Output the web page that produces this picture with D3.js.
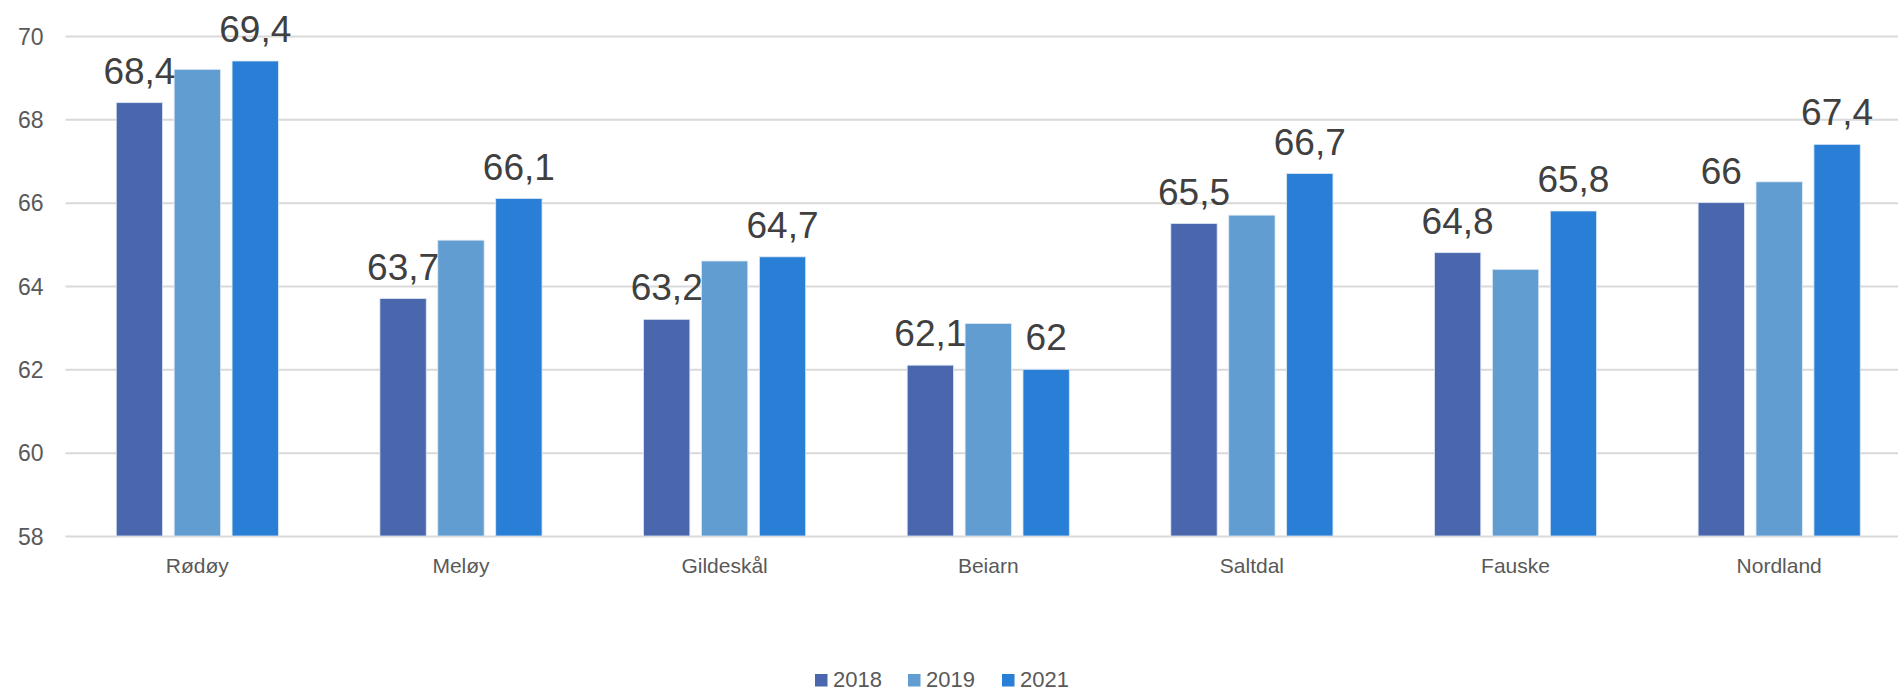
<!DOCTYPE html>
<html><head><meta charset="utf-8">
<script src="https://cdn.jsdelivr.net/npm/d3@7"></script>
<style>
html,body{margin:0;padding:0;background:#fff;}
svg{display:block;font-family:"Liberation Sans",Arial,sans-serif;}
</style></head>
<body><svg id="chart" width="1898" height="693"></svg>
<script>
const categories = ["Rødøy","Meløy","Gildeskål","Beiarn","Saltdal","Fauske","Nordland"];
const seriesNames = ["2018","2019","2021"];
const values2018 = [68.4, 63.7, 63.2, 62.1, 65.5, 64.8, 66];
const values2019 = [69.2, 65.1, 64.6, 63.1, 65.7, 64.4, 66.5];
const values2021 = [69.4, 66.1, 64.7, 62.0, 66.7, 65.8, 67.4];
const yTicks = [58, 60, 62, 64, 66, 68, 70];
const labelledSeries = ["2018","2021"];
const colors = ["#4A66AC", "#629DD1", "#297FD5"];

const seriesValues = [values2018, values2019, values2021];
const svg = d3.select("#chart");
const plotLeft = 65.5, plotRight = 1911, gridRight = 1898;
const y = d3.scaleLinear().domain([58, 70]).range([536, 36]);
const x0 = d3.scaleBand().domain(categories).range([plotLeft, plotRight]).paddingInner(0.385).paddingOuter(0.1925);
const x1 = d3.scaleBand().domain(seriesNames).range([0, x0.bandwidth()]).paddingInner(0.2);

// gridlines
const yAxis = d3.axisLeft(y).tickValues(yTicks).tickSize(-(gridRight - plotLeft)).tickPadding(22).tickFormat(d3.format("d"));
const ga = svg.append("g").attr("transform", `translate(${plotLeft},0)`).call(yAxis);
ga.select(".domain").remove();
ga.selectAll(".tick line").attr("stroke", "#D9D9D9").attr("stroke-width", 2);
ga.selectAll(".tick text").attr("fill", "#595959").attr("font-size", 23).attr("dy", "0.35em").attr("font-family", "Liberation Sans, Arial, sans-serif");

// bars
const groups = svg.append("g").selectAll("g").data(categories).join("g")
  .attr("transform", d => `translate(${x0(d)},0)`);
seriesNames.forEach((s, si) => {
  groups.append("rect")
    .attr("x", x1(s))
    .attr("width", x1.bandwidth())
    .attr("y", (d, i) => y(seriesValues[si][i]))
    .attr("height", (d, i) => y(58) - y(seriesValues[si][i]))
    .attr("fill", colors[si])
    .attr("stroke", "#DDE8F5").attr("stroke-width", 0.8);
});
// data labels
const fmt = v => String(v).replace(".", ",");
seriesNames.forEach((s, si) => {
  if (!labelledSeries.includes(s)) return;
  groups.append("text")
    .attr("x", x1(s) + x1.bandwidth() / 2)
    .attr("y", (d, i) => y(seriesValues[si][i]) - 19)
    .attr("text-anchor", "middle")
    .attr("font-size", 37)
    .attr("fill", "#404040")
    .text((d, i) => fmt(seriesValues[si][i]));
});

// category labels
const xAxis = d3.axisBottom(x0).tickSize(0).tickPadding(22);
const gx = svg.append("g").attr("transform", `translate(0,${y(58)})`).call(xAxis);
gx.select(".domain").remove();
gx.selectAll("text").attr("fill", "#595959").attr("font-size", 21).attr("font-family", "Liberation Sans, Arial, sans-serif");

// legend
const legendX = [815, 908, 1002];
const lg = svg.append("g");
seriesNames.forEach((s, si) => {
  lg.append("rect").attr("x", legendX[si]).attr("y", 674).attr("width", 12.5).attr("height", 12.5).attr("fill", colors[si]);
  lg.append("text").attr("x", legendX[si] + 18).attr("y", 686.5).attr("font-size", 22).attr("fill", "#595959").text(s);
});
</script></body></html>
